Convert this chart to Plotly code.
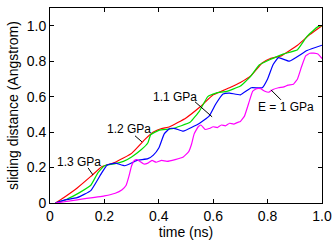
import plotly.graph_objects as go

# time (ns) and sliding distance (Angstrom) per pressure
t_13 = [0.02, 0.05, 0.10, 0.15, 0.19, 0.21, 0.24, 0.30, 0.35, 0.38, 0.41, 0.44, 0.50, 0.55, 0.60, 0.63, 0.66, 0.70, 0.74, 0.78, 0.81, 0.85, 0.91, 0.955, 1.0]
d_13 = [0.0, 0.03, 0.085, 0.15, 0.205, 0.215, 0.23, 0.28, 0.36, 0.40, 0.42, 0.43, 0.48, 0.54, 0.61, 0.63, 0.65, 0.68, 0.72, 0.79, 0.815, 0.83, 0.89, 0.95, 1.0]

t_12 = [0.02, 0.06, 0.11, 0.15, 0.176, 0.20, 0.24, 0.27, 0.30, 0.335, 0.36, 0.37, 0.40, 0.45, 0.515, 0.55, 0.58, 0.61, 0.65, 0.70, 0.735, 0.77, 0.81, 0.857, 0.91, 0.945, 0.985, 1.0]
d_12 = [0.0, 0.02, 0.06, 0.10, 0.17, 0.21, 0.222, 0.235, 0.26, 0.30, 0.34, 0.385, 0.41, 0.42, 0.455, 0.52, 0.60, 0.62, 0.63, 0.66, 0.71, 0.78, 0.81, 0.84, 0.865, 0.94, 0.995, 1.0]

t_11 = [0.02, 0.05, 0.10, 0.15, 0.19, 0.21, 0.24, 0.275, 0.32, 0.36, 0.38, 0.40, 0.42, 0.44, 0.46, 0.49, 0.55, 0.585, 0.61, 0.636, 0.66, 0.70, 0.74, 0.78, 0.80, 0.82, 0.84, 0.88, 0.945, 1.0]
d_11 = [0.0, 0.015, 0.03, 0.07, 0.17, 0.215, 0.225, 0.21, 0.24, 0.25, 0.27, 0.31, 0.39, 0.42, 0.42, 0.405, 0.45, 0.49, 0.56, 0.615, 0.62, 0.61, 0.65, 0.65, 0.70, 0.78, 0.82, 0.80, 0.86, 0.89]

t_10 = [0.02, 0.10, 0.20, 0.24, 0.265, 0.28, 0.29, 0.30, 0.31, 0.32, 0.33, 0.345, 0.36, 0.375, 0.39, 0.41, 0.43, 0.46, 0.49, 0.51, 0.52, 0.53, 0.545, 0.555, 0.57, 0.585, 0.60, 0.615, 0.63, 0.645, 0.66, 0.675, 0.69, 0.70, 0.715, 0.73, 0.745, 0.76, 0.775, 0.79, 0.805, 0.82, 0.84, 0.86, 0.875, 0.895, 0.91, 0.925, 0.94, 0.955, 0.97, 0.985, 1.0]
d_10 = [0.0, 0.018, 0.04, 0.055, 0.075, 0.10, 0.15, 0.21, 0.24, 0.245, 0.235, 0.22, 0.225, 0.24, 0.23, 0.24, 0.235, 0.245, 0.26, 0.29, 0.33, 0.39, 0.43, 0.44, 0.415, 0.42, 0.43, 0.425, 0.44, 0.435, 0.45, 0.445, 0.455, 0.46, 0.49, 0.56, 0.63, 0.645, 0.645, 0.63, 0.625, 0.64, 0.65, 0.655, 0.665, 0.67, 0.70, 0.77, 0.83, 0.845, 0.845, 0.84, 0.815]

tick_vals = [0, 0.2, 0.4, 0.6, 0.8, 1.0]
tick_text = ["0", "0.2", "0.4", "0.6", "0.8", "1.0"]

FONT = "Liberation Sans, Arial, Helvetica, sans-serif"

fig = go.Figure()
series = [
    (t_13, d_13, "#ff0000", "1.3 GPa"),
    (t_12, d_12, "#00e000", "1.2 GPa"),
    (t_11, d_11, "#0000ff", "1.1 GPa"),
    (t_10, d_10, "#ff00ff", "E = 1 GPa"),
]
for tt, dd, col, name in series:
    fig.add_trace(go.Scatter(x=tt, y=dd, mode="lines", name=name,
                             line=dict(color=col, width=1.2, shape="spline", smoothing=0.35)))

# labels with leader lines
labels = [
    ("1.3 GPa", 0.108, 0.229, (0.140, 0.198), (0.158, 0.158)),
    ("1.2 GPa", 0.289, 0.418, (0.3125, 0.379), (0.338, 0.345)),
    ("1.1 GPa", 0.460, 0.599, (0.533, 0.571), (0.596, 0.486)),
    ("E = 1 GPa", 0.866, 0.542, (0.849, 0.582), (0.8125, 0.638)),
]
for txt, lx, ly, p0, p1 in labels:
    fig.add_annotation(x=lx, y=ly, text=txt, showarrow=False,
                       font=dict(family=FONT, size=12, color="black"),
                       xanchor="center", yanchor="middle")
    fig.add_shape(type="line", x0=p0[0], y0=p0[1], x1=p1[0], y1=p1[1],
                  line=dict(color="black", width=1))

axis_common = dict(showgrid=False, zeroline=False, showline=True, linecolor="black",
                   linewidth=1, mirror="ticks", ticks="inside", ticklen=4,
                   tickcolor="black", tickvals=tick_vals, ticktext=tick_text,
                   automargin=False,
                   tickfont=dict(family=FONT, size=14, color="black"))

fig.update_layout(
    width=332, height=244,
    margin=dict(l=50, r=10, t=8, b=41),
    paper_bgcolor="white", plot_bgcolor="white",
    showlegend=False,
    xaxis=dict(range=[0, 1.0], title=dict(text="time (ns)", font=dict(family=FONT, size=14, color="black"), standoff=2), **axis_common),
    yaxis=dict(range=[0, 1.1], title=dict(text="sliding distance (Angstrom)", font=dict(family=FONT, size=14, color="black"), standoff=4), **axis_common),
)

fig.write_html("out.html", config={"displayModeBar": False},
               post_script="document.body.style.margin='0';")
